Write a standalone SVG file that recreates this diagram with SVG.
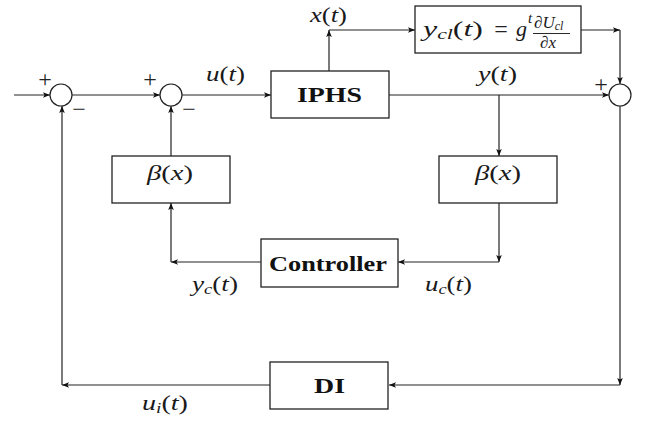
<svg xmlns="http://www.w3.org/2000/svg" width="647" height="423" viewBox="0 0 647 423">
  <style>
    .box { fill: #ffffff; stroke: #222; stroke-width: 1.3; }
    .sum { fill: #ffffff; stroke: #222; stroke-width: 1.2; }
    .wire { fill: none; stroke: #222; stroke-width: 1.2; }
    .arr { marker-end: url(#tip); }
    .bold { font-family: "Liberation Serif", "DejaVu Serif", serif; font-weight: bold; font-size: 22px; fill: #111; }
    .math { font-family: "Liberation Serif", "DejaVu Serif", serif; font-style: italic; font-size: 22px; fill: #1a1a1a; }
    .up { font-style: normal; }
    .sub { font-size: 15px; }
    .frac { font-size: 17px; }
    .fsub { font-size: 12px; }
    .sign { font-family: "Liberation Serif", "DejaVu Serif", serif; font-size: 24px; fill: #222; }
  </style>
  <defs>
    <marker id="tip" viewBox="0 0 8 8" refX="8" refY="4" markerWidth="7" markerHeight="7" markerUnits="userSpaceOnUse" orient="auto">
      <path d="M0,0.8 L8,4 L0,7.2 L1.8,4 Z" fill="#111"/>
    </marker>
  </defs>

  <!-- connectors -->
  <g id="connectors">
    <path class="wire arr" d="M14,95 H50"/>
    <path class="wire arr" d="M72,95 H160"/>
    <path class="wire arr" d="M182,95 H271"/>
    <path class="wire arr" d="M389,95 H609"/>
    <path class="wire arr" d="M329,71 V30"/>
    <path class="wire arr" d="M329,30 H415"/>
    <path class="wire arr" d="M581,30 H620"/>
    <path class="wire arr" d="M620,30 V84"/>
    <path class="wire arr" d="M499,95 V156"/>
    <path class="wire arr" d="M499,203 V262"/>
    <path class="wire arr" d="M499,262 H398"/>
    <path class="wire arr" d="M261,262 H171"/>
    <path class="wire arr" d="M171,262 V203"/>
    <path class="wire arr" d="M171,156 V106"/>
    <path class="wire arr" d="M620,106 V385"/>
    <path class="wire arr" d="M620,385 H389"/>
    <path class="wire arr" d="M270,385 H62"/>
    <path class="wire arr" d="M62,385 V106"/>
  </g>

  <!-- summing junctions -->
  <g id="sum1">
    <circle class="sum" cx="61" cy="95" r="11"/>
    <text class="sign" x="45" y="87" text-anchor="middle">+</text>
    <text class="sign" x="79" y="117" text-anchor="middle">−</text>
  </g>
  <g id="sum2">
    <circle class="sum" cx="171" cy="95" r="11"/>
    <text class="sign" x="150" y="87" text-anchor="middle">+</text>
    <text class="sign" x="189" y="117" text-anchor="middle">−</text>
  </g>
  <g id="sum3">
    <circle class="sum" cx="620" cy="95" r="11"/>
    <text class="sign" x="601" y="92" text-anchor="middle">+</text>
  </g>

  <!-- blocks -->
  <g id="iphs">
    <rect class="box" x="271" y="71" width="118" height="47"/>
    <text class="bold" x="297" y="102" textLength="65" lengthAdjust="spacingAndGlyphs">IPHS</text>
  </g>
  <g id="ycl">
    <rect class="box" x="415" y="6" width="166" height="47"/>
    <text class="math" x="423" y="36" textLength="60" lengthAdjust="spacingAndGlyphs">y<tspan class="sub" dy="3">cl</tspan><tspan class="up" dy="-3">(</tspan>t<tspan class="up">)</tspan></text>
    <text class="sign" x="501" y="37" text-anchor="middle">=</text>
    <text class="math" x="516" y="36">g</text>
    <text class="math sub" x="528" y="23">t</text>
    <text class="math frac" x="534" y="28">∂U<tspan class="fsub" dy="2">cl</tspan></text>
    <line x1="533" y1="33.5" x2="570" y2="33.5" stroke="#111" stroke-width="0.9"/>
    <text class="math frac" x="540" y="48">∂x</text>
  </g>
  <g id="beta-left">
    <rect class="box" x="112" y="156" width="118" height="47"/>
    <text class="math" x="147" y="180" textLength="46" lengthAdjust="spacingAndGlyphs">β<tspan class="up">(</tspan>x<tspan class="up">)</tspan></text>
  </g>
  <g id="beta-right">
    <rect class="box" x="439" y="156" width="118" height="47"/>
    <text class="math" x="475" y="180" textLength="46" lengthAdjust="spacingAndGlyphs">β<tspan class="up">(</tspan>x<tspan class="up">)</tspan></text>
  </g>
  <g id="controller">
    <rect class="box" x="261" y="239" width="137" height="48"/>
    <text class="bold" x="269" y="271" textLength="118" lengthAdjust="spacingAndGlyphs">Controller</text>
  </g>
  <g id="di">
    <rect class="box" x="270" y="362" width="118" height="47"/>
    <text class="bold" x="314" y="393" textLength="31" lengthAdjust="spacingAndGlyphs">DI</text>
  </g>

  <!-- signal labels -->
  <g id="labels">
    <text class="math" x="206" y="81" textLength="39" lengthAdjust="spacingAndGlyphs">u<tspan class="up">(</tspan>t<tspan class="up">)</tspan></text>
    <text class="math" x="310" y="22" textLength="37" lengthAdjust="spacingAndGlyphs">x<tspan class="up">(</tspan>t<tspan class="up">)</tspan></text>
    <text class="math" x="478" y="81" textLength="39" lengthAdjust="spacingAndGlyphs">y<tspan class="up">(</tspan>t<tspan class="up">)</tspan></text>
    <text class="math" x="192" y="291" textLength="46" lengthAdjust="spacingAndGlyphs">y<tspan class="sub" dy="3">c</tspan><tspan class="up" dy="-3">(</tspan>t<tspan class="up">)</tspan></text>
    <text class="math" x="425" y="291" textLength="47" lengthAdjust="spacingAndGlyphs">u<tspan class="sub" dy="3">c</tspan><tspan class="up" dy="-3">(</tspan>t<tspan class="up">)</tspan></text>
    <text class="math" x="142" y="410" textLength="46" lengthAdjust="spacingAndGlyphs">u<tspan class="sub" dy="3">i</tspan><tspan class="up" dy="-3">(</tspan>t<tspan class="up">)</tspan></text>
  </g>
</svg>
